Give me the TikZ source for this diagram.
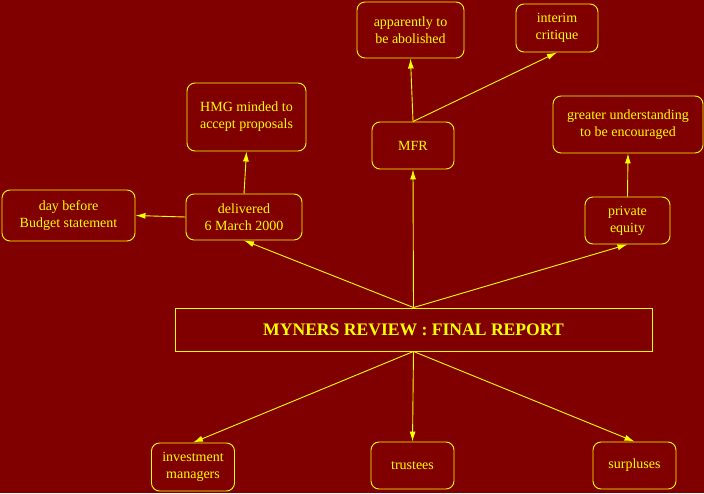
\documentclass[tikz,border=0pt]{standalone}
\usepackage{fontspec}
\setmainfont{Liberation Serif}
\usetikzlibrary{arrows.meta}
\definecolor{maroon}{HTML}{800000}
\definecolor{yel}{HTML}{FFFF00}
\tikzset{
  leaf/.style={draw=yel, text=yel, rounded corners=8pt, align=center, inner sep=0pt,
    line width=0.9pt, font=\fontsize{14}{17}\selectfont},
  link/.style={draw=yel, line width=0.9pt, -{Latex[length=10pt,width=6pt]}}
}
\begin{document}
\begin{tikzpicture}[x=1pt,y=-1pt]
  \fill[maroon] (0,0) rectangle (704,493);
  \useasboundingbox (0,0) rectangle (704,493);
  % centre box
  \node[draw=yel, text=yel, line width=0.9pt, minimum width=477pt, minimum height=43pt, inner sep=0pt,
        font=\fontsize{17.6}{20}\selectfont\bfseries] (report) at (413.5,329.5) {MYNERS REVIEW : FINAL REPORT};
  % upper branches
  \node[leaf, minimum width=116pt, minimum height=46pt] (delivered) at (244,217) {delivered\\6 March 2000};
  \node[leaf, minimum width=133pt, minimum height=51pt] (daybefore) at (68.5,215.5) {day before\\Budget statement};
  \node[leaf, minimum width=119pt, minimum height=68pt] (hmg) at (246.5,117) {HMG minded to\\accept proposals};
  \node[leaf, minimum width=82pt, minimum height=47pt] (mfr) at (413,145.5) {MFR};
  \node[leaf, minimum width=107pt, minimum height=56pt] (abolished) at (410.5,30) {apparently to\\be abolished};
  \node[leaf, minimum width=82pt, minimum height=48pt] (interim) at (557,28) {interim\\critique};
  \node[leaf, minimum width=150pt, minimum height=57pt] (greater) at (628,124.5) {greater understanding\\to be encouraged};
  \node[leaf, minimum width=85pt, minimum height=47pt] (private) at (627.5,220.5) {private\\equity};
  % lower branches
  \node[leaf, minimum width=83pt, minimum height=48pt] (investment) at (193,467) {investment\\managers};
  \node[leaf, minimum width=83pt, minimum height=47pt] (trustees) at (412.5,465.5) {trustees};
  \node[leaf, minimum width=83pt, minimum height=47pt] (surpluses) at (634.5,465.5) {surpluses};
  % connectors
  \draw[link] (report.north) -- (delivered.south);
  \draw[link] (report.north) -- (mfr.south);
  \draw[link] (report.north) -- (private.south);
  \draw[link] (report.south) -- (investment.north);
  \draw[link] (report.south) -- (trustees.north);
  \draw[link] (report.south) -- (surpluses.north);
  \draw[link] (delivered.north) -- (hmg.south);
  \draw[link] (delivered.west) -- (daybefore.east);
  \draw[link] (mfr.north) -- (abolished.south);
  \draw[link] (mfr.north) -- (interim.south);
  \draw[link] (private.north) -- (greater.south);
\end{tikzpicture}
\end{document}
